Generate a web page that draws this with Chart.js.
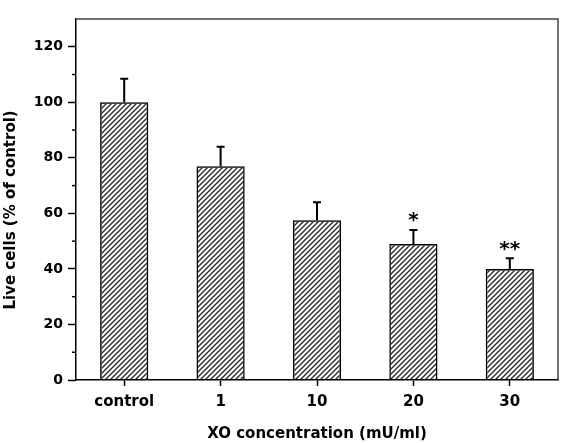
<!DOCTYPE html>
<html>
<head>
<meta charset="utf-8">
<script src="https://cdn.jsdelivr.net/npm/chart.js@4/dist/chart.umd.min.js"></script>
<style>
  body { margin: 0; background: #fff; }
</style>
</head>
<body>
<canvas id="myChart" width="564" height="443"></canvas>
<script>
var categories = ["control", "1", "10", "20", "30"];
var liveCells = [100, 77, 57.5, 49, 40];
var errUp = [8.5, 7, 6.5, 5, 3.8];
var sigMarks = ["", "", "", "*", "**"];

var FONT = "'DejaVu Sans', sans-serif";

function hatch() {
  var c = document.createElement("canvas");
  c.width = 5;
  c.height = 5;
  var g = c.getContext("2d");
  g.strokeStyle = "#2a2a2a";
  g.lineWidth = 1.4;
  g.beginPath();
  g.moveTo(0, 5); g.lineTo(5, 0);
  g.moveTo(-1, 1); g.lineTo(1, -1);
  g.moveTo(4, 6); g.lineTo(6, 4);
  g.stroke();
  return g.createPattern(c, "repeat");
}

// error bars, stars, minor ticks and the frame
var extras = {
  id: "extras",
  afterDatasetsDraw: function (chart) {
    var ctx = chart.ctx;
    var x = chart.scales.x;
    var y = chart.scales.y;
    var area = chart.chartArea;
    ctx.save();
    ctx.strokeStyle = "#000";
    ctx.fillStyle = "#000";
    ctx.lineWidth = 2;
    liveCells.forEach(function (v, i) {
      var cx = x.getPixelForValue(i);
      var top = y.getPixelForValue(v + errUp[i]);
      ctx.beginPath();
      ctx.moveTo(cx, y.getPixelForValue(v));
      ctx.lineTo(cx, top);
      ctx.moveTo(cx - 4, top);
      ctx.lineTo(cx + 4, top);
      ctx.stroke();
      if (sigMarks[i]) {
        ctx.font = "bold 20px " + FONT;
        ctx.textAlign = "center";
        ctx.textBaseline = "middle";
        ctx.fillText(sigMarks[i], cx, top - 9);
      }
    });
    // minor ticks
    ctx.lineWidth = 1.5;
    for (var m = 10; m < y.max; m += 20) {
      var py = y.getPixelForValue(m);
      ctx.beginPath();
      ctx.moveTo(area.left - 4, py);
      ctx.lineTo(area.left, py);
      ctx.stroke();
    }
    // top and right frame
    ctx.beginPath();
    ctx.strokeStyle = "#444";
    ctx.moveTo(area.left, area.top);
    ctx.lineTo(area.right, area.top);
    ctx.lineTo(area.right, area.bottom);
    ctx.stroke();
    ctx.restore();
  }
};

new Chart("myChart", {
  type: "bar",
  data: {
    labels: categories,
    datasets: [
      {
        data: liveCells,
        backgroundColor: hatch(),
        borderColor: "#000",
        borderWidth: 1.5,
        barPercentage: 0.5,
        categoryPercentage: 1,
      },
    ],
  },
  options: {
    responsive: false,
    animation: false,
    layout: { padding: { top: 19, right: 6, left: 0, bottom: 0 } },
    plugins: {
      legend: { display: false },
      tooltip: { enabled: false },
    },
    scales: {
      x: {
        offset: true,
        grid: { offset: false, drawOnChartArea: false, tickLength: 6, tickColor: "#000", tickWidth: 1.5 },
        border: { color: "#000", width: 1.5 },
        ticks: { color: "#000", font: { family: FONT, size: 15, weight: "bold" }, padding: 7 },
        title: {
          display: true,
          text: "XO concentration (mU/ml)",
          color: "#000",
          font: { family: FONT, size: 15, weight: "bold" },
          padding: { top: 0, bottom: 0 },
        },
        afterFit: function (s) { s.height = 63; },
      },
      y: {
        min: 0,
        max: 130,
        ticks: { stepSize: 20, color: "#000", font: { family: FONT, size: 14, weight: "bold" }, padding: 5 },
        afterBuildTicks: function (s) {
          s.ticks = s.ticks.filter(function (t) { return t.value % 20 === 0; });
        },
        grid: { drawOnChartArea: false, tickLength: 8, tickColor: "#000", tickWidth: 1.5 },
        border: { color: "#000", width: 1.5 },
        title: {
          display: true,
          text: "Live cells (% of control)    ",
          color: "#000",
          font: { family: FONT, size: 15, weight: "bold" },
          padding: { top: 2, bottom: 0 },
        },
        afterFit: function (s) { s.width = 76; },
      },
    },
  },
  plugins: [extras],
});
</script>
</body>
</html>
